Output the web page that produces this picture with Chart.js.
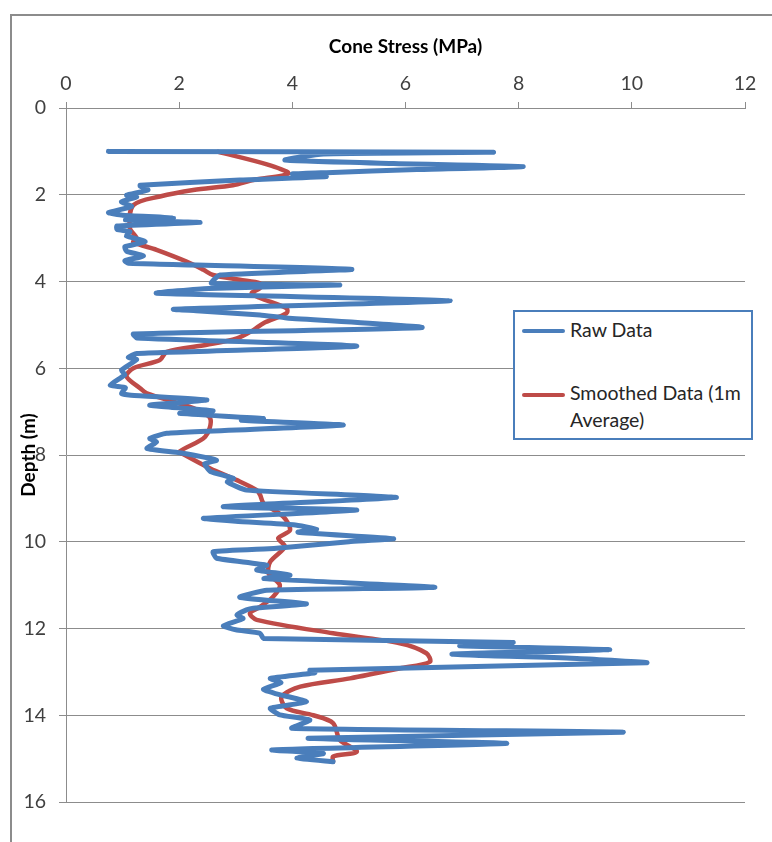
<!DOCTYPE html>
<html>
<head>
<meta charset="utf-8">
<script src="https://cdn.jsdelivr.net/npm/chart.js@4"></script>
<style>
  body { margin: 0; background: #fff; font-family: Lato, "Open Sans", sans-serif; }
  #wrap { position: relative; width: 772px; height: 842px; }
  #frame { position: absolute; left: 10px; top: 14px; width: 800px; height: 900px;
           border-left: 2px solid #8c8c8c; border-top: 2px solid #8c8c8c; }
  #legend { position: absolute; left: 513px; top: 310px; width: 236px; height: 126px;
            border: 2px solid #4a7ebb; background: #fff; color: #262626; font-size: 19.5px; }
  .item { position: absolute; left: 7px; display: flex; align-items: flex-start; }
  .swatch { width: 43px; height: 4px; border-radius: 2px; margin-top: 11px; margin-right: 5px; }
</style>
</head>
<body>
<div id="wrap">
  <div id="frame"></div>
  <canvas id="cpt" width="772" height="842"></canvas>
  <div id="legend">
    <div class="item" style="top:6px"><div class="swatch" style="background:#4a7ebb"></div><div>Raw Data</div></div>
    <div class="item" style="top:70px"><div class="swatch" style="background:#be4b48"></div><div style="line-height:27px;margin-top:-3px">Smoothed Data (1m<br>Average)</div></div>
  </div>
</div>
<script>
// CPT profile
const rawDepth = [1.00, 1.02, 1.06, 1.20, 1.28, 1.35, 1.42, 1.49, 1.52, 1.58, 1.66, 1.78, 1.80, 1.89, 2.01, 2.05, 2.16, 2.27, 2.41, 2.47,
  2.53, 2.58, 2.64, 2.72, 2.80, 2.85, 2.95, 3.08, 3.20, 3.30, 3.41, 3.52, 3.58, 3.72, 3.85, 4.04, 4.08, 4.16, 4.27, 4.44,
  4.64, 4.68, 4.77, 4.84, 5.06, 5.21, 5.30, 5.49, 5.66, 5.75, 5.80, 6.04, 6.15, 6.39, 6.45, 6.58, 6.62, 6.73, 6.85, 6.90,
  6.98, 7.04, 7.16, 7.20, 7.31, 7.50, 7.62, 7.70, 7.85, 7.95, 8.12, 8.20, 8.38, 8.54, 8.62, 8.81, 8.98, 9.19, 9.27, 9.46,
  9.53, 9.61, 9.71, 9.78, 9.93, 10.00, 10.15, 10.23, 10.38, 10.54, 10.65, 10.77, 10.85, 11.05, 11.12, 11.28, 11.43, 11.53, 11.57, 11.69,
  11.77, 11.94, 12.03, 12.11, 12.23, 12.32, 12.40, 12.49, 12.59, 12.69, 12.79, 12.96, 13.02, 13.15, 13.25, 13.40, 13.50, 13.69, 13.84, 13.99,
  14.11, 14.30, 14.39, 14.53, 14.65, 14.80, 14.88, 14.99, 15.07];
const rawStress = [0.75, 7.55, 4.55, 3.87, 5.79, 8.08, 6.20, 4.60, 4.00, 4.60, 3.07, 1.31, 1.31, 1.45, 1.07, 1.25, 0.98, 1.16, 0.75, 1.00,
  1.90, 1.05, 2.37, 0.90, 0.90, 1.13, 1.07, 1.40, 1.04, 1.07, 1.37, 1.04, 1.10, 5.05, 2.72, 2.57, 4.84, 2.52, 1.60, 6.79,
  1.90, 2.37, 3.43, 3.90, 6.29, 1.19, 1.25, 5.14, 1.25, 1.10, 1.25, 0.98, 1.04, 0.78, 1.05, 0.98, 1.15, 2.49, 1.48, 1.85,
  2.60, 2.01, 3.49, 3.10, 4.90, 1.78, 1.48, 1.60, 1.43, 2.01, 2.66, 2.45, 2.55, 2.96, 2.85, 3.19, 5.84, 2.78, 5.14, 2.43,
  3.00, 4.02, 4.43, 4.10, 5.79, 5.00, 3.72, 2.60, 2.66, 3.55, 3.37, 3.96, 3.50, 6.52, 3.55, 3.07, 4.25, 3.31, 3.19, 3.02,
  3.13, 2.78, 3.00, 3.43, 3.49, 7.90, 6.96, 9.61, 6.82, 9.03, 10.26, 4.31, 4.40, 3.61, 3.80, 3.49, 3.70, 4.25, 3.61, 3.78,
  4.31, 3.99, 9.85, 4.28, 7.79, 3.64, 4.55, 4.08, 4.72];

const smoothDepth = [1.01, 1.30, 1.51, 1.66, 1.78, 1.89, 2.04, 2.24, 2.77, 3.00, 3.09, 3.27, 3.54, 3.73, 3.85, 3.96, 4.04, 4.15, 4.27, 4.38,
  4.62, 4.73, 4.96, 5.12, 5.31, 5.46, 5.62, 5.81, 6.00, 6.19, 6.46, 6.58, 6.92, 7.16, 7.58, 7.92, 8.00, 8.31, 8.58, 8.81,
  8.92, 9.11, 9.42, 9.73, 9.92, 10.11, 10.46, 10.73, 11.00, 11.27, 11.50, 11.65, 11.80, 12.11, 12.34, 12.57, 12.77, 12.92, 13.15, 13.34,
  13.57, 13.84, 14.00, 14.18, 14.57, 14.84, 14.95, 15.07];
const smoothStress = [2.69, 3.55, 3.93, 3.31, 2.95, 2.25, 1.66, 1.19, 1.13, 1.25, 1.19, 1.60, 2.13, 2.43, 2.60, 3.07, 3.43, 3.43, 3.28, 3.43,
  3.90, 3.90, 3.49, 3.31, 3.02, 2.49, 1.78, 1.66, 1.19, 1.07, 1.31, 1.43, 2.25, 2.55, 2.46, 2.01, 2.10, 2.55, 3.02, 3.37,
  3.43, 3.49, 3.84, 3.96, 3.75, 3.87, 3.61, 3.58, 3.78, 3.66, 3.43, 3.25, 3.37, 4.72, 5.90, 6.37, 6.43, 5.90, 5.02, 4.14,
  3.81, 3.90, 4.37, 4.72, 4.84, 5.14, 4.72, 4.72];

const toPoints = (xs, ys) => xs.map((x, i) => ({ x, y: ys[i] }));

const axisGray = '#8c8c8c';
const tickFont = { family: 'Lato, "Open Sans", sans-serif', size: 19.5 };
const titleFont = { family: 'Lato, "Open Sans", sans-serif', size: 19, weight: 'bold' };

new Chart(document.getElementById('cpt'), {
  type: 'scatter',
  data: {
    datasets: [{
      label: 'Raw Data',
      data: toPoints(rawStress, rawDepth),
      showLine: true,
      borderColor: '#4a7ebb',
      borderWidth: 5,
      borderCapStyle: 'round',
      borderJoinStyle: 'round',
      pointRadius: 0,
      tension: 0.15
    }, {
      label: 'Smoothed Data (1m Average)',
      data: toPoints(smoothStress, smoothDepth),
      showLine: true,
      borderColor: '#be4b48',
      borderWidth: 4.5,
      borderCapStyle: 'round',
      borderJoinStyle: 'round',
      pointRadius: 0,
      tension: 0.3
    }]
  },
  options: {
    responsive: false,
    animation: false,
    layout: { padding: { left: 0, top: 0, right: 27, bottom: 40 } },
    plugins: { legend: { display: false }, tooltip: { enabled: false } },
    scales: {
      x: {
        type: 'linear',
        position: 'top',
        min: 0, max: 12,
        ticks: { stepSize: 2, color: '#404040', font: tickFont, padding: 7 },
        grid: { drawOnChartArea: false, color: axisGray, tickLength: 6 },
        border: { color: axisGray, width: 1 },
        title: { display: true, text: 'Cone Stress (MPa)', color: '#000', font: titleFont, padding: { top: 35, bottom: 0 } },
        afterFit: s => { s.height = 108; }
      },
      y: {
        type: 'linear',
        reverse: true,
        min: 0, max: 16,
        ticks: { stepSize: 2, color: '#404040', font: tickFont, padding: 13 },
        grid: { color: axisGray, tickLength: 7 },
        border: { color: axisGray, width: 1 },
        title: { display: true, text: 'Depth (m)', color: '#000', font: titleFont, padding: { top: 17, bottom: 0 } },
        afterFit: s => { s.width = 66; }
      }
    }
  }
});
</script>
</body>
</html>
